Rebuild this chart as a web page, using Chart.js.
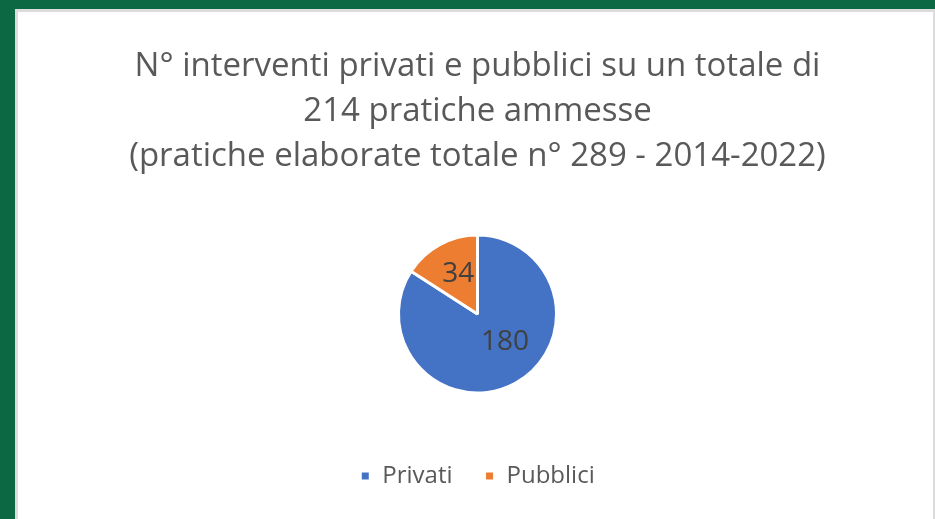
<!DOCTYPE html>
<html lang="it">
<head>
    <meta charset="UTF-8">
    <title>Interventi privati e pubblici</title>
    <script src="https://cdn.jsdelivr.net/npm/chart.js"></script>
    <style>
        * { margin: 0; padding: 0; box-sizing: border-box; }
        body {
            width: 935px;
            height: 519px;
            background: #0b6843;
            overflow: hidden;
            position: relative;
        }
        .card {
            position: absolute;
            left: 15px;
            top: 9px;
            width: 920px;
            height: 510px;
            background: #ffffff;
            border-left: 3px solid #dcdcdc;
            border-top: 3px solid #dcdcdc;
            border-right: 2px solid #dcdcdc;
        }
        .chart-box {
            position: absolute;
            left: 0;
            top: 0;
            width: 913px;
            height: 507px;
        }
    </style>
</head>
<body>
    <div class="card">
        <div class="chart-box">
            <canvas id="pieChart"></canvas>
        </div>
    </div>

    <script>
        const categories = ['Privati', 'Pubblici'];
        const interventi = [180, 34];
        const titleLines = [
            'N° interventi privati e pubblici su un totale di',
            '214 pratiche ammesse',
            '(pratiche elaborate totale n° 289 - 2014-2022)'
        ];

        // etichette dei valori dentro le fette (posizione tipo "adatta" di Excel)
        const labelPlace = [{ k: 0.5, turn: -0.27 }, { k: 0.56, turn: 0.05 }];
        const sliceLabels = {
            id: 'sliceLabels',
            afterDatasetsDraw(chart) {
                const ctx = chart.ctx;
                const meta = chart.getDatasetMeta(0);
                ctx.save();
                ctx.font = '28px "Open Sans", sans-serif';
                ctx.fillStyle = '#404040';
                ctx.textAlign = 'center';
                ctx.textBaseline = 'middle';
                meta.data.forEach((arc, i) => {
                    const p = arc.getProps(['x', 'y', 'startAngle', 'endAngle', 'outerRadius'], true);
                    const mid = (p.startAngle + p.endAngle) / 2 + labelPlace[i].turn;
                    const r = p.outerRadius * labelPlace[i].k;
                    ctx.fillText(String(interventi[i]), p.x + Math.cos(mid) * r, p.y + Math.sin(mid) * r);
                });
                ctx.restore();
            }
        };

        new Chart(document.getElementById('pieChart'), {
            type: 'pie',
            data: {
                labels: categories,
                datasets: [{
                    data: interventi,
                    backgroundColor: ['#4472c4', '#ed7d31'],
                    borderColor: '#ffffff',
                    borderWidth: 3,
                    radius: 79
                }]
            },
            options: {
                responsive: true,
                maintainAspectRatio: false,
                animation: false,
                layout: { padding: { bottom: 21, left: 6 } },
                plugins: {
                    title: {
                        display: true,
                        text: titleLines,
                        color: '#595959',
                        font: { family: '"Open Sans", sans-serif', size: 33, weight: 'normal', lineHeight: 1.364 },
                        padding: { top: 32, bottom: 17 }
                    },
                    legend: {
                        position: 'bottom',
                        labels: {
                            color: '#595959',
                            font: { family: '"Open Sans", sans-serif', size: 24 },
                            boxWidth: 10,
                            boxHeight: 10,
                            padding: 32
                        }
                    },
                    tooltip: { enabled: false }
                }
            },
            plugins: [sliceLabels]
        });
    </script>
</body>
</html>
